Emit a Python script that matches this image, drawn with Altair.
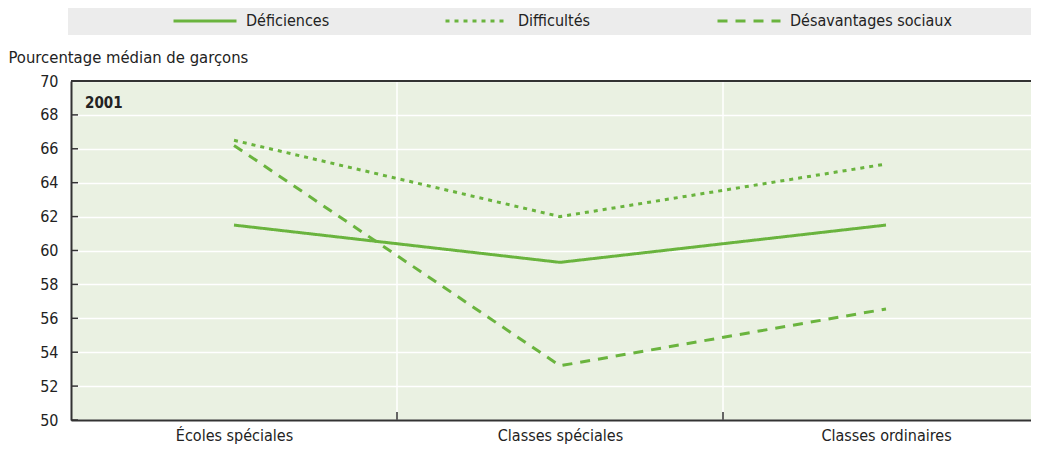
import altair as alt
import pandas as pd

categories = ["Écoles spéciales", "Classes spéciales", "Classes ordinaires"]
series_names = ["Déficiences", "Difficultés", "Désavantages sociaux"]
deficiences = [61.5, 59.3, 61.5]
difficultes = [66.5, 62.0, 65.1]
desavantages = [66.2, 53.2, 56.55]
y_ticks = [50, 52, 54, 56, 58, 60, 62, 64, 66, 68, 70]
panel_label = "2001"
y_title = "Pourcentage médian de garçons"

FONT = "Liberation Sans Narrow, DejaVu Sans Condensed, Arial Narrow, sans-serif"
GREEN = "#6ab43e"
AXIS = "#333333"
TXT = "#222222"
W, H = 960, 339
STEP = 326.0

rows = []
for i, (name, vals) in enumerate(zip(series_names, [deficiences, difficultes, desavantages])):
    for j, (c, v) in enumerate(zip(categories, vals)):
        rows.append({"cat": c, "idx": j, "series": name, "value": v})
df = pd.DataFrame(rows)

label_expr = "[" + ",".join("'" + c + "'" for c in categories) + "][datum.value]"
xscale = alt.Scale(domain=[-0.5, -0.5 + W / STEP], nice=False, zero=False)
yscale = alt.Scale(domain=[50, 70], nice=False)

xaxis = alt.Axis(title=None, values=list(range(len(categories))), labelExpr=label_expr,
                 labelAngle=0, ticks=False, domain=True, domainColor=AXIS, domainWidth=2,
                 grid=False, labelFontSize=16, labelColor=TXT, labelFont=FONT,
                 labelPadding=7, labelFlush=False, labelOverlap=False)
yaxis = alt.Axis(values=y_ticks, title=y_title, titleAngle=0, titleX=-63, titleY=-19,
                 titleAlign="left", titleBaseline="alphabetic", titleFontSize=16.5,
                 titleFontWeight="normal", titleFont=FONT, titleColor=TXT,
                 ticks=False, domain=True, domainColor=AXIS, domainWidth=2,
                 grid=True, gridColor="white", gridWidth=1.5, labelFontSize=16,
                 labelColor=TXT, labelFont=FONT, labelPadding=13)

# boundaries between category bands (gridlines + inward ticks)
bounds_df = pd.DataFrame({"b": [j + 0.5 for j in range(len(categories) - 1)]})

legend_bg = alt.Chart(pd.DataFrame({"a": [0]})).mark_rect(color="#ececec").encode(
    x=alt.value(-3), x2=alt.value(W), y=alt.value(-76), y2=alt.value(-46))

vgrid = alt.Chart(bounds_df).mark_rule(color="white", strokeWidth=1.5).encode(
    x=alt.X("b:Q", scale=xscale, axis=xaxis))

xticks = alt.Chart(bounds_df).mark_rule(color=AXIS, strokeWidth=1.5).encode(
    x=alt.X("b:Q", scale=xscale, axis=xaxis), y=alt.value(H - 8), y2=alt.value(H))

ytick_df = pd.DataFrame({"value": y_ticks})
yticks = alt.Chart(ytick_df).mark_rule(color=AXIS, strokeWidth=1.5).encode(
    y=alt.Y("value:Q", scale=yscale, axis=yaxis), x=alt.value(0), x2=alt.value(7))

top_border = alt.Chart(pd.DataFrame({"value": [max(y_ticks)]})).mark_rule(
    color=AXIS, strokeWidth=2).encode(
    y=alt.Y("value:Q", scale=yscale, axis=yaxis), x=alt.value(0), x2=alt.value(W))

lines = alt.Chart(df).mark_line(strokeWidth=3, color=GREEN).encode(
    x=alt.X("idx:Q", scale=xscale, axis=xaxis),
    y=alt.Y("value:Q", scale=yscale, axis=yaxis),
    strokeDash=alt.StrokeDash("series:N", sort=series_names,
        scale=alt.Scale(domain=series_names, range=[[1, 0], [4, 5], [10, 8]]),
        legend=alt.Legend(title=None, orient="none", legendX=101, legendY=-93,
                          direction="horizontal", columns=3, gridAlign="all",
                          symbolType="stroke", symbolSize=3969,
                          symbolStrokeWidth=3, symbolStrokeColor=GREEN,
                          labelFontSize=16, labelFont=FONT, labelColor=TXT,
                          labelLimit=400, labelOffset=8, columnPadding=31)),
    order=alt.Order("idx:Q"),
)

label = alt.Chart(pd.DataFrame({"t": [panel_label]})).mark_text(
    fontWeight="bold", fontSize=15, font=FONT, align="left", baseline="middle", color=TXT
).encode(text="t:N", x=alt.value(14), y=alt.value(22))

chart = alt.layer(legend_bg, vgrid, xticks, yticks, top_border, lines, label).properties(
    width=W, height=H,
    padding={"left": 63, "top": 73, "right": 0, "bottom": 25},
    autosize=alt.AutoSizeParams(type="none"),
).configure(background="white").configure_view(fill="#eaf1e2", stroke=None)

chart.save("out.html", embed_options={"renderer": "svg", "actions": False})
